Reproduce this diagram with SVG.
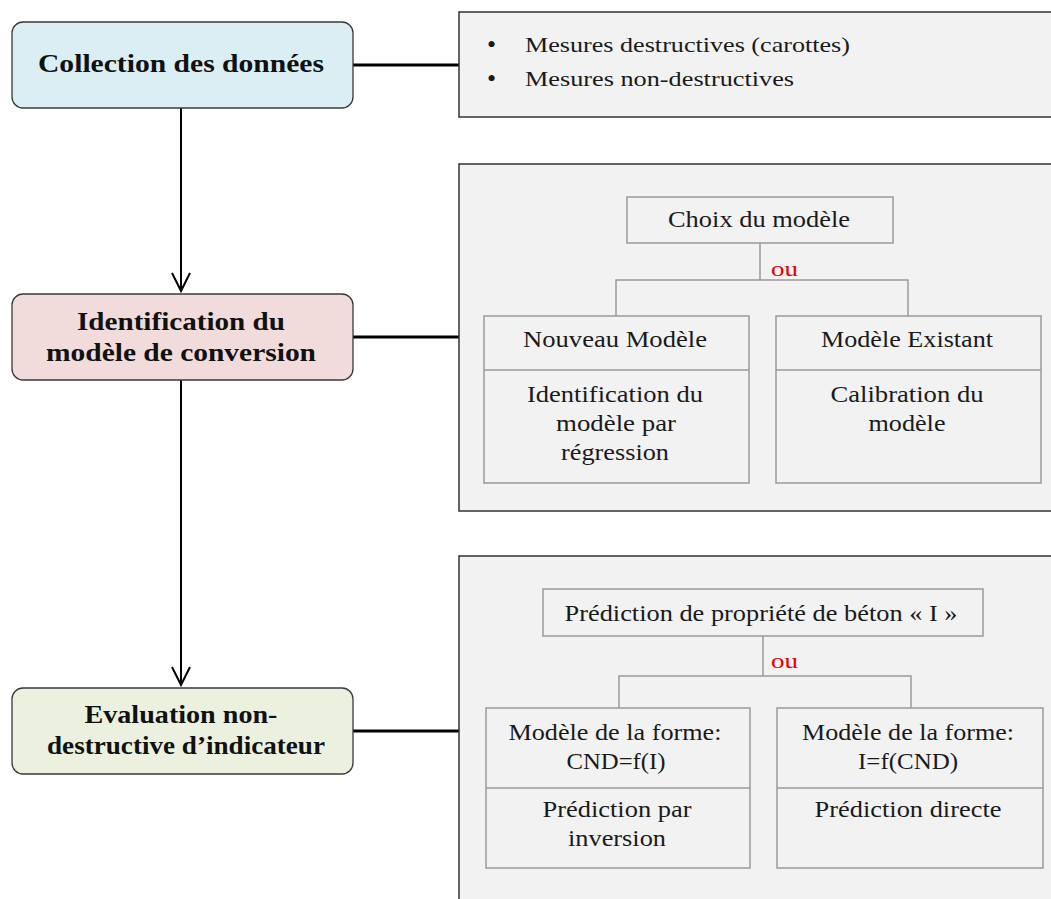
<svg xmlns="http://www.w3.org/2000/svg" width="1051" height="899" viewBox="0 0 1051 899">
<style>
.node{stroke:#3a3a3a;stroke-width:1.3}
.title{font-family:"Liberation Serif",serif;font-weight:bold;font-size:25px;fill:#111;text-anchor:middle}
.panel{fill:#f2f2f2;stroke:#333;stroke-width:1.5}
.inner{fill:none;stroke:#9a9a9a;stroke-width:1.5}
.t{font-family:"Liberation Serif",serif;font-size:23px;fill:#1a1a1a;text-anchor:middle}
.tl{font-family:"Liberation Serif",serif;font-size:22px;fill:#1a1a1a}
.bullet{font-family:"Liberation Serif",serif;font-size:26px;fill:#1a1a1a}
.ou{font-family:"Liberation Serif",serif;font-size:21px;fill:#e00000}
.conn{stroke:#000;fill:none}
</style>
<rect width="1051" height="899" fill="#ffffff"/>
<g id="connectors">
<line class="conn" x1="353" y1="65" x2="459" y2="65" stroke-width="3"/>
<line class="conn" x1="353" y1="337" x2="459" y2="337" stroke-width="3"/>
<line class="conn" x1="353" y1="731" x2="459" y2="731" stroke-width="3"/>
<line class="conn" x1="181" y1="108" x2="181" y2="291" stroke-width="2"/>
<polyline class="conn" points="172,273 181,291 190,273" stroke-width="2"/>
<line class="conn" x1="181" y1="380" x2="181" y2="685" stroke-width="2"/>
<polyline class="conn" points="172,667 181,685 190,667" stroke-width="2"/>
</g>
<g id="node-collection">
<rect class="node" x="12" y="22" width="341" height="86" rx="11" fill="#dbeef4"/>
<text class="title" x="181" y="72" textLength="286" lengthAdjust="spacingAndGlyphs">Collection des données</text>
</g>
<g id="node-identification">
<rect class="node" x="12" y="294" width="341" height="86" rx="11" fill="#f2dcdb"/>
<text class="title" x="181" y="330" textLength="208" lengthAdjust="spacingAndGlyphs">Identification du</text>
<text class="title" x="181" y="361" textLength="270" lengthAdjust="spacingAndGlyphs">modèle de conversion</text>
</g>
<g id="node-evaluation">
<rect class="node" x="12" y="688" width="341" height="86" rx="11" fill="#ebf1de"/>
<text class="title" x="181" y="723" textLength="193" lengthAdjust="spacingAndGlyphs">Evaluation non-</text>
<text class="title" x="186" y="754" textLength="278" lengthAdjust="spacingAndGlyphs">destructive d’indicateur</text>
</g>
<g id="panel-mesures">
<rect class="panel" x="459" y="12" width="600" height="105"/>
<text class="bullet" x="487" y="53">•</text>
<text class="tl" x="525" y="52" textLength="325" lengthAdjust="spacingAndGlyphs">Mesures destructives (carottes)</text>
<text class="bullet" x="487" y="87">•</text>
<text class="tl" x="525" y="86" textLength="269" lengthAdjust="spacingAndGlyphs">Mesures non-destructives</text>
</g>
<g id="panel-modele">
<rect class="panel" x="459" y="164" width="600" height="347"/>
<g id="choix">
<rect class="inner" x="627" y="197" width="266" height="46"/>
<text class="t" x="759" y="227" textLength="182" lengthAdjust="spacingAndGlyphs">Choix du modèle</text>
</g>
<polyline class="inner" points="760,243 760,280"/>
<polyline class="inner" points="616,316 616,280 908,280 908,316"/>
<text class="ou" x="771" y="276" textLength="27" lengthAdjust="spacingAndGlyphs">ou</text>
<g id="nouveau">
<rect class="inner" x="484" y="316" width="265" height="167"/>
<line class="inner" x1="484" y1="370" x2="749" y2="370"/>
<text class="t" x="615" y="347" textLength="184" lengthAdjust="spacingAndGlyphs">Nouveau Modèle</text>
<text class="t" x="615" y="402" textLength="176" lengthAdjust="spacingAndGlyphs">Identification du</text>
<text class="t" x="616" y="431" textLength="120" lengthAdjust="spacingAndGlyphs">modèle par</text>
<text class="t" x="615" y="460" textLength="108" lengthAdjust="spacingAndGlyphs">régression</text>
</g>
<g id="existant">
<rect class="inner" x="776" y="316" width="265" height="167"/>
<line class="inner" x1="776" y1="370" x2="1041" y2="370"/>
<text class="t" x="907" y="347" textLength="172" lengthAdjust="spacingAndGlyphs">Modèle Existant</text>
<text class="t" x="907" y="402" textLength="153" lengthAdjust="spacingAndGlyphs">Calibration du</text>
<text class="t" x="907" y="431" textLength="77" lengthAdjust="spacingAndGlyphs">modèle</text>
</g>
</g>
<g id="panel-prediction">
<rect class="panel" x="459" y="556" width="600" height="360"/>
<g id="prediction">
<rect class="inner" x="543" y="589" width="440" height="47"/>
<text class="t" x="761" y="621" textLength="393" lengthAdjust="spacingAndGlyphs">Prédiction de propriété de béton « I »</text>
</g>
<polyline class="inner" points="763,636 763,676"/>
<polyline class="inner" points="619,708 619,676 911,676 911,708"/>
<text class="ou" x="771" y="668" textLength="27" lengthAdjust="spacingAndGlyphs">ou</text>
<g id="inversion">
<rect class="inner" x="486" y="708" width="264" height="160"/>
<line class="inner" x1="486" y1="788" x2="750" y2="788"/>
<text class="t" x="615" y="740" textLength="213" lengthAdjust="spacingAndGlyphs">Modèle de la forme:</text>
<text class="t" x="616" y="769" textLength="99" lengthAdjust="spacingAndGlyphs">CND=f(I)</text>
<text class="t" x="617" y="817" textLength="149" lengthAdjust="spacingAndGlyphs">Prédiction par</text>
<text class="t" x="617" y="846" textLength="98" lengthAdjust="spacingAndGlyphs">inversion</text>
</g>
<g id="directe">
<rect class="inner" x="777" y="708" width="266" height="160"/>
<line class="inner" x1="777" y1="788" x2="1043" y2="788"/>
<text class="t" x="908" y="740" textLength="212" lengthAdjust="spacingAndGlyphs">Modèle de la forme:</text>
<text class="t" x="908" y="769" textLength="100" lengthAdjust="spacingAndGlyphs">I=f(CND)</text>
<text class="t" x="908" y="817" textLength="187" lengthAdjust="spacingAndGlyphs">Prédiction directe</text>
</g>
</g>
</svg>
